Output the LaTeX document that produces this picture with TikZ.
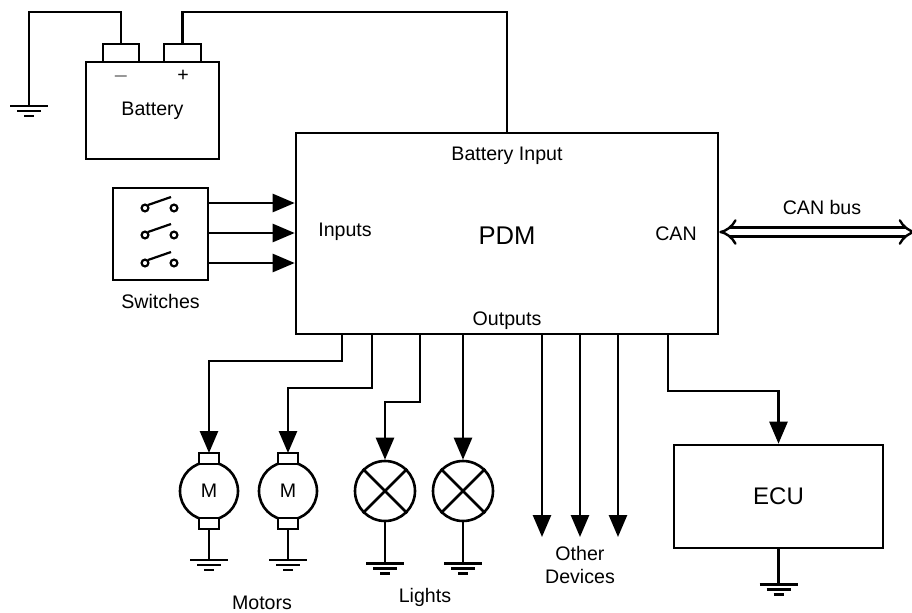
\documentclass[tikz,border=0pt]{standalone}
\usepackage{fontspec}
\setmainfont{Liberation Sans}
\usetikzlibrary{arrows.meta,positioning}

\tikzset{
    wire/.style = {line width=1.3pt},
    feed/.style = {wire, -{Triangle[length=11pt,width=9pt]}},
    lbl/.style = {font=\fontsize{9.8}{11.5}\selectfont},
    box/.style = {draw, wire, fill=white, inner sep=0pt},
    brush/.style = {box, outer sep=0pt, minimum width=10pt, minimum height=5.5pt},
    gnd/.pic = {\draw[line width=1.3pt] (-19,0) -- (19,0) (-12,5) -- (12,5) (-5,10) -- (5,10);}
}

\begin{document}
\begin{tikzpicture}[x=0.5pt, y=-0.5pt]
        \useasboundingbox (0,0) rectangle (912,612);

        \node[box, minimum width=66.5pt, minimum height=48.5pt, lbl] (bat) at (152.5,110.5) {Battery};
        \node[box, minimum width=18pt, minimum height=9pt] (neg) at (121,53) {};
        \node[box, minimum width=18.5pt, minimum height=9pt] (pos) at (182.5,53) {};
        \node[lbl] (minus) at (121,76) {$-$};
        \node[lbl] (plus) at (183,76) {+};

        \node[box, minimum width=211pt, minimum height=100.5pt] (pdm) at (507,233.5) {};
        \node[lbl] (batin) at (507,156) {Battery Input};
        \node[lbl] (inputs) at (345,232) {Inputs};
        \node[font=\fontsize{12.8}{14}\selectfont] (pdmtxt) at (507,236) {PDM};
        \node[lbl] (can) at (676,234) {CAN};
        \node[lbl] (outputs) at (507,321) {Outputs};

        \node[box, minimum width=47.5pt, minimum height=46pt] (sw) at (160.5,234) {};
        \node[lbl, below=3pt of sw] (swtxt) {Switches};
        \foreach \y in {208,235,263} {
            \draw[line width=1.1pt] (145,\y) circle (1.7pt) (174,\y) circle (1.7pt);
            \draw[line width=1.1pt] (148,\y-3) -- (171,\y-11);
        }
        \foreach \y in {203,233,263}
            \draw[feed] (sw.east |- 0,\y) -- (pdm.west |- 0,\y);

        \coordinate (gb) at (29,106);
        \draw[wire] (neg.north) |- (gb |- 0,12) -- (gb);
        \pic at (gb) {gnd};
        \coordinate (top) at (507,12);
        \draw[wire] (pos.north) |- (top) -- (pdm.north);

        \draw[double, double distance=3.2pt, line width=1.2pt, {Implies}-{Implies}] (pdm.east |- 0,232) -- (916,232);
        \node[lbl] (bus) at (822,207) {CAN bus};

        \node[box, circle, outer sep=0pt, minimum size=29pt, lbl] (m1) at (209,491) {M};
        \node[box, circle, outer sep=0pt, minimum size=29pt, lbl] (m2) at (288,491) {M};
        \node[brush, above=-1pt of m1] (m1t) {};
        \node[brush, below=-1pt of m1] (m1b) {};
        \node[brush, above=-1pt of m2] (m2t) {};
        \node[brush, below=-1pt of m2] (m2b) {};
        \node[lbl] (motors) at (262,603) {Motors};

        \node[box, circle, minimum size=30pt] (l1) at (385,491) {};
        \node[box, circle, minimum size=30pt] (l2) at (463,491) {};
        \draw[wire] (l1.north west) -- (l1.south east) (l1.north east) -- (l1.south west);
        \draw[wire] (l2.north west) -- (l2.south east) (l2.north east) -- (l2.south west);
        \node[lbl] (lights) at (425,597) {Lights};

        \node[lbl, align=center] (dev) at (580,565) {Other\\Devices};

        \node[box, minimum width=104.5pt, minimum height=51.5pt, font=\fontsize{12}{14}\selectfont] (ecu) at (778.5,496.5) {ECU};

        \coordinate (o1) at (342,334);
        \coordinate (o2) at (372,334);
        \coordinate (o3) at (420,334);
        \coordinate (o4) at (463,334);
        \coordinate (o5) at (542,334);
        \coordinate (o6) at (580,334);
        \coordinate (o7) at (618,334);
        \coordinate (o8) at (668,334);
        \coordinate (devtop) at (0,537);

        \draw[feed] (o1) -- ++(0,27) -| (m1t.north);
        \draw[feed] (o2) -- ++(0,54) -| (m2t.north);
        \draw[feed] (o3) -- ++(0,68) -| (l1.north);
        \draw[feed] (o4) -- (l2.north);
        \draw[feed] (o5) -- (o5 |- devtop);
        \draw[feed] (o6) -- (o6 |- devtop);
        \draw[feed] (o7) -- (o7 |- devtop);
        \draw[feed] (o8) -- ++(0,57) -| (ecu.north);

        \draw[wire] (m1b.south) -- ++(0,31) pic {gnd};
        \draw[wire] (m2b.south) -- ++(0,31) pic {gnd};
        \draw[wire] (l1.south) -- ++(0,41) pic {gnd};
        \draw[wire] (l2.south) -- ++(0,41) pic {gnd};
        \draw[wire] (ecu.south) -- ++(0,35) pic {gnd};
\end{tikzpicture}
\end{document}
